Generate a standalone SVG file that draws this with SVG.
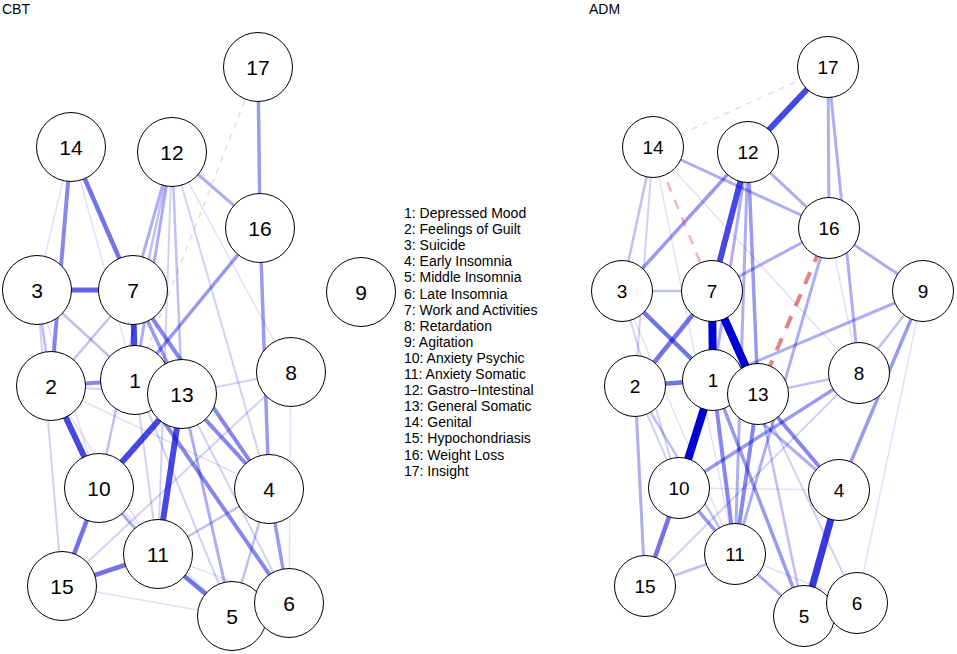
<svg xmlns="http://www.w3.org/2000/svg" width="957" height="654" viewBox="0 0 957 654">
<style>
line{fill:none}
.p{stroke:#0000D5}
.t1{stroke-width:1.5;stroke-opacity:.12}
.t2{stroke-width:2;stroke-opacity:.18}
.t3{stroke-width:2.5;stroke-opacity:.25}
.t4{stroke-width:3;stroke-opacity:.32}
.t5{stroke-width:3.5;stroke-opacity:.4}
.t6{stroke-width:4;stroke-opacity:.47}
.t7{stroke-width:4.5;stroke-opacity:.55}
.t8{stroke-width:5;stroke-opacity:.62}
.t9{stroke-width:6;stroke-opacity:.72}
.t10{stroke-width:7;stroke-opacity:.78}
.t11{stroke-width:8;stroke-opacity:1}
.n{stroke:#D03030}
.n1{stroke-width:1.5;stroke-opacity:.2;stroke-dasharray:6 6}
.n2{stroke-width:2.5;stroke-opacity:.35;stroke-dasharray:10 9}
.n3{stroke-width:4;stroke-opacity:.6;stroke-dasharray:13 11}
.node circle{fill:#fff;stroke:#000;stroke-width:1}
.node text{font-family:"Liberation Sans",Arial,sans-serif;text-anchor:middle;fill:#000}
.L text{font-size:21px}
.R text{font-size:19px}
.title{font-family:"Liberation Sans",Arial,sans-serif;font-size:14px;fill:#000}
.legend{font-family:"Liberation Sans",Arial,sans-serif;font-size:14px;fill:#000}
</style>

<text class="title" x="2" y="14">CBT</text>
<text class="title" x="589" y="14">ADM</text>

<g id="connectors-cbt">
<line class="n n1" x1="258" y1="67" x2="135" y2="380"/>
<line class="p t1" x1="172" y1="152" x2="291" y2="372"/>
<line class="p t1" x1="51" y1="386" x2="269" y2="489"/>
<line class="p t1" x1="71" y1="147" x2="135" y2="380"/>
<line class="p t1" x1="37" y1="290" x2="99" y2="488"/>
<line class="p t1" x1="99" y1="488" x2="232" y2="616"/>
<line class="p t1" x1="62" y1="586" x2="232" y2="616"/>
<line class="p t1" x1="291" y1="372" x2="289" y2="603"/>
<line class="p t1" x1="158" y1="554" x2="289" y2="603"/>
<line class="p t1" x1="71" y1="147" x2="37" y2="290"/>
<line class="p t1" x1="51" y1="386" x2="158" y2="554"/>
<line class="p t2" x1="172" y1="152" x2="158" y2="554"/>
<line class="p t2" x1="172" y1="152" x2="269" y2="489"/>
<line class="p t2" x1="51" y1="386" x2="182" y2="394"/>
<line class="p t2" x1="135" y1="380" x2="232" y2="616"/>
<line class="p t2" x1="182" y1="394" x2="289" y2="603"/>
<line class="p t2" x1="37" y1="290" x2="62" y2="586"/>
<line class="p t2" x1="291" y1="372" x2="62" y2="586"/>
<line class="p t2" x1="182" y1="394" x2="291" y2="372"/>
<line class="p t2" x1="135" y1="380" x2="158" y2="554"/>
<line class="p t3" x1="232" y1="616" x2="269" y2="489"/>
<line class="p t3" x1="37" y1="290" x2="135" y2="380"/>
<line class="p t3" x1="133" y1="290" x2="51" y2="386"/>
<line class="p t3" x1="172" y1="152" x2="182" y2="394"/>
<line class="p t3" x1="172" y1="152" x2="99" y2="488"/>
<line class="p t3" x1="37" y1="290" x2="51" y2="386"/>
<line class="p t3" x1="158" y1="554" x2="269" y2="489"/>
<line class="p t4" x1="172" y1="152" x2="133" y2="290"/>
<line class="p t4" x1="172" y1="152" x2="260" y2="228"/>
<line class="p t4" x1="99" y1="488" x2="158" y2="554"/>
<line class="p t4" x1="172" y1="152" x2="135" y2="380"/>
<line class="p t4" x1="182" y1="394" x2="232" y2="616"/>
<line class="p t5" x1="260" y1="228" x2="269" y2="489"/>
<line class="p t5" x1="260" y1="228" x2="135" y2="380"/>
<line class="p t5" x1="269" y1="489" x2="289" y2="603"/>
<line class="p t5" x1="133" y1="290" x2="182" y2="394"/>
<line class="p t5" x1="258" y1="67" x2="260" y2="228"/>
<line class="p t6" x1="182" y1="394" x2="269" y2="489"/>
<line class="p t6" x1="133" y1="290" x2="269" y2="489"/>
<line class="p t6" x1="135" y1="380" x2="289" y2="603"/>
<line class="p t6" x1="51" y1="386" x2="135" y2="380"/>
<line class="p t6" x1="71" y1="147" x2="51" y2="386"/>
<line class="p t7" x1="99" y1="488" x2="62" y2="586"/>
<line class="p t7" x1="62" y1="586" x2="158" y2="554"/>
<line class="p t7" x1="158" y1="554" x2="232" y2="616"/>
<line class="p t7" x1="71" y1="147" x2="133" y2="290"/>
<line class="p t8" x1="37" y1="290" x2="133" y2="290"/>
<line class="p t9" x1="133" y1="290" x2="135" y2="380"/>
<line class="p t9" x1="182" y1="394" x2="158" y2="554"/>
<line class="p t9" x1="51" y1="386" x2="99" y2="488"/>
<line class="p t9" x1="182" y1="394" x2="99" y2="488"/>
</g>

<g id="connectors-adm">
<line class="n n1" x1="828" y1="67" x2="653" y2="147"/>
<line class="p t1" x1="653" y1="147" x2="859" y2="373"/>
<line class="p t1" x1="735" y1="554" x2="857" y2="603"/>
<line class="p t1" x1="923" y1="291" x2="857" y2="603"/>
<line class="p t1" x1="622" y1="291" x2="735" y2="554"/>
<line class="p t1" x1="829" y1="228" x2="859" y2="373"/>
<line class="p t1" x1="653" y1="147" x2="735" y2="554"/>
<line class="p t1" x1="679" y1="488" x2="839" y2="490"/>
<line class="p t2" x1="635" y1="386" x2="679" y2="488"/>
<line class="p t2" x1="645" y1="586" x2="859" y2="373"/>
<line class="p t2" x1="622" y1="291" x2="679" y2="488"/>
<line class="p t2" x1="758" y1="394" x2="857" y2="603"/>
<line class="p t2" x1="653" y1="147" x2="635" y2="386"/>
<line class="p t3" x1="635" y1="386" x2="735" y2="554"/>
<line class="p t3" x1="653" y1="147" x2="622" y2="291"/>
<line class="p t3" x1="758" y1="394" x2="859" y2="373"/>
<line class="p t3" x1="923" y1="291" x2="859" y2="373"/>
<line class="p t3" x1="645" y1="586" x2="735" y2="554"/>
<line class="p t3" x1="758" y1="394" x2="804" y2="616"/>
<line class="p t4" x1="748" y1="152" x2="713" y2="380"/>
<line class="p t4" x1="653" y1="147" x2="829" y2="228"/>
<line class="p t4" x1="748" y1="152" x2="829" y2="228"/>
<line class="p t4" x1="829" y1="228" x2="923" y2="291"/>
<line class="p t4" x1="828" y1="67" x2="829" y2="228"/>
<line class="p t4" x1="828" y1="67" x2="859" y2="373"/>
<line class="p t4" x1="829" y1="228" x2="712" y2="291"/>
<line class="p t4" x1="829" y1="228" x2="735" y2="554"/>
<line class="p t4" x1="635" y1="386" x2="645" y2="586"/>
<line class="p t4" x1="735" y1="554" x2="804" y2="616"/>
<line class="p t4" x1="748" y1="152" x2="735" y2="554"/>
<line class="p t4" x1="713" y1="380" x2="839" y2="490"/>
<line class="p t4" x1="923" y1="291" x2="713" y2="380"/>
<line class="p t5" x1="679" y1="488" x2="735" y2="554"/>
<line class="p t5" x1="713" y1="380" x2="804" y2="616"/>
<line class="p t5" x1="923" y1="291" x2="839" y2="490"/>
<line class="p t5" x1="859" y1="373" x2="679" y2="488"/>
<line class="p t5" x1="748" y1="152" x2="622" y2="291"/>
<line class="p t5" x1="748" y1="152" x2="758" y2="394"/>
<line class="p t6" x1="758" y1="394" x2="735" y2="554"/>
<line class="p t6" x1="713" y1="380" x2="735" y2="554"/>
<line class="p t6" x1="758" y1="394" x2="839" y2="490"/>
<line class="p t7" x1="622" y1="291" x2="713" y2="380"/>
<line class="p t7" x1="712" y1="291" x2="635" y2="386"/>
<line class="p t7" x1="635" y1="386" x2="713" y2="380"/>
<line class="p t7" x1="679" y1="488" x2="645" y2="586"/>
<line class="p t3" x1="622" y1="291" x2="712" y2="291"/>
<line class="n n2" x1="653" y1="147" x2="712" y2="291"/>
<line class="n n3" x1="829" y1="228" x2="758" y2="394"/>
<line class="p t9" x1="748" y1="152" x2="828" y2="67"/>
<line class="p t9" x1="748" y1="152" x2="712" y2="291"/>
<line class="p t10" x1="839" y1="490" x2="804" y2="616"/>
<line class="p t11" x1="712" y1="291" x2="713" y2="380"/>
<line class="p t11" x1="712" y1="291" x2="758" y2="394"/>
<line class="p t11" x1="713" y1="380" x2="679" y2="488"/>
</g>

<g id="cbt-n1" class="node L"><circle cx="135" cy="380" r="34.5"/><text x="135" y="388">1</text></g>
<g id="cbt-n2" class="node L"><circle cx="51" cy="386" r="34.5"/><text x="51" y="394">2</text></g>
<g id="cbt-n3" class="node L"><circle cx="37" cy="290" r="34.5"/><text x="37" y="298">3</text></g>
<g id="cbt-n4" class="node L"><circle cx="269" cy="489" r="34.5"/><text x="269" y="497">4</text></g>
<g id="cbt-n5" class="node L"><circle cx="232" cy="616" r="34.5"/><text x="232" y="624">5</text></g>
<g id="cbt-n6" class="node L"><circle cx="289" cy="603" r="34.5"/><text x="289" y="611">6</text></g>
<g id="cbt-n7" class="node L"><circle cx="133" cy="290" r="34.5"/><text x="133" y="298">7</text></g>
<g id="cbt-n8" class="node L"><circle cx="291" cy="372" r="34.5"/><text x="291" y="380">8</text></g>
<g id="cbt-n9" class="node L"><circle cx="361" cy="292" r="34.5"/><text x="361" y="300">9</text></g>
<g id="cbt-n10" class="node L"><circle cx="99" cy="488" r="34.5"/><text x="99" y="496">10</text></g>
<g id="cbt-n11" class="node L"><circle cx="158" cy="554" r="34.5"/><text x="158" y="562">11</text></g>
<g id="cbt-n12" class="node L"><circle cx="172" cy="152" r="34.5"/><text x="172" y="160">12</text></g>
<g id="cbt-n13" class="node L"><circle cx="182" cy="394" r="34.5"/><text x="182" y="402">13</text></g>
<g id="cbt-n14" class="node L"><circle cx="71" cy="147" r="34.5"/><text x="71" y="155">14</text></g>
<g id="cbt-n15" class="node L"><circle cx="62" cy="586" r="34.5"/><text x="62" y="594">15</text></g>
<g id="cbt-n16" class="node L"><circle cx="260" cy="228" r="34.5"/><text x="260" y="236">16</text></g>
<g id="cbt-n17" class="node L"><circle cx="258" cy="67" r="34.5"/><text x="258" y="75">17</text></g>

<g id="adm-n1" class="node R"><circle cx="713" cy="380" r="30.5"/><text x="713" y="387">1</text></g>
<g id="adm-n2" class="node R"><circle cx="635" cy="386" r="30.5"/><text x="635" y="393">2</text></g>
<g id="adm-n3" class="node R"><circle cx="622" cy="291" r="30.5"/><text x="622" y="298">3</text></g>
<g id="adm-n4" class="node R"><circle cx="839" cy="490" r="30.5"/><text x="839" y="497">4</text></g>
<g id="adm-n5" class="node R"><circle cx="804" cy="616" r="30.5"/><text x="804" y="623">5</text></g>
<g id="adm-n6" class="node R"><circle cx="857" cy="603" r="30.5"/><text x="857" y="610">6</text></g>
<g id="adm-n7" class="node R"><circle cx="712" cy="291" r="30.5"/><text x="712" y="298">7</text></g>
<g id="adm-n8" class="node R"><circle cx="859" cy="373" r="30.5"/><text x="859" y="380">8</text></g>
<g id="adm-n9" class="node R"><circle cx="923" cy="291" r="30.5"/><text x="923" y="298">9</text></g>
<g id="adm-n10" class="node R"><circle cx="679" cy="488" r="30.5"/><text x="679" y="495">10</text></g>
<g id="adm-n11" class="node R"><circle cx="735" cy="554" r="30.5"/><text x="735" y="561">11</text></g>
<g id="adm-n12" class="node R"><circle cx="748" cy="152" r="30.5"/><text x="748" y="159">12</text></g>
<g id="adm-n13" class="node R"><circle cx="758" cy="394" r="30.5"/><text x="758" y="401">13</text></g>
<g id="adm-n14" class="node R"><circle cx="653" cy="147" r="30.5"/><text x="653" y="154">14</text></g>
<g id="adm-n15" class="node R"><circle cx="645" cy="586" r="30.5"/><text x="645" y="593">15</text></g>
<g id="adm-n16" class="node R"><circle cx="829" cy="228" r="30.5"/><text x="829" y="235">16</text></g>
<g id="adm-n17" class="node R"><circle cx="828" cy="67" r="30.5"/><text x="828" y="74">17</text></g>

<g id="legend" class="legend">
<text x="404" y="218">1: Depressed Mood</text>
<text x="404" y="234.1">2: Feelings of Guilt</text>
<text x="404" y="250.2">3: Suicide</text>
<text x="404" y="266.3">4: Early Insomnia</text>
<text x="404" y="282.4">5: Middle Insomnia</text>
<text x="404" y="298.5">6: Late Insomnia</text>
<text x="404" y="314.6">7: Work and Activities</text>
<text x="404" y="330.7">8: Retardation</text>
<text x="404" y="346.8">9: Agitation</text>
<text x="404" y="362.9">10: Anxiety Psychic</text>
<text x="404" y="379">11: Anxiety Somatic</text>
<text x="404" y="395.1">12: Gastro−Intestinal</text>
<text x="404" y="411.2">13: General Somatic</text>
<text x="404" y="427.3">14: Genital</text>
<text x="404" y="443.4">15: Hypochondriasis</text>
<text x="404" y="459.5">16: Weight Loss</text>
<text x="404" y="475.6">17: Insight</text>
</g>
</svg>
